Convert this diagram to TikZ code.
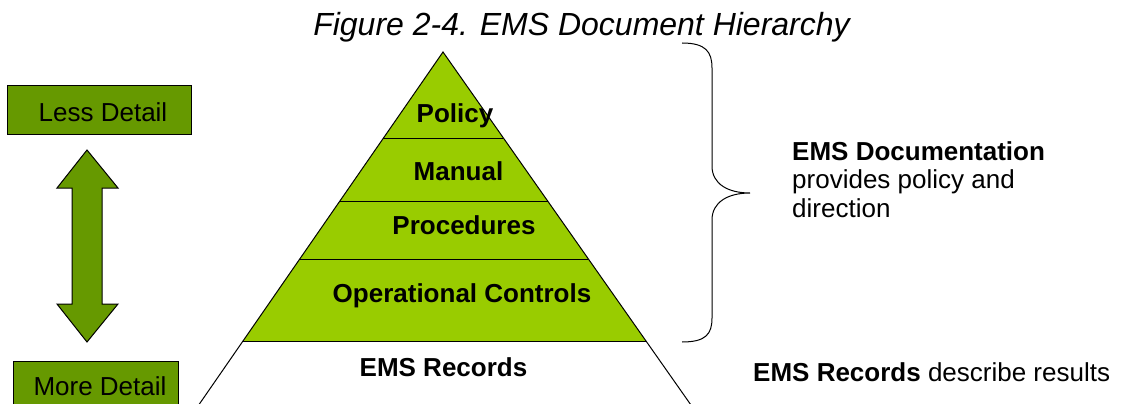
\documentclass[tikz,border=0pt]{standalone}
\usepackage{fontspec}
\setmainfont{Liberation Sans}
\usetikzlibrary{calc}
\definecolor{darkgreen}{HTML}{669900}
\definecolor{lightgreen}{HTML}{99CC00}
\begin{document}
\begin{tikzpicture}[x=1pt,y=-1pt,
  dbox/.style={draw=black, line width=0.9pt, fill=darkgreen, inner sep=0pt},
  dtext/.style={font=\fontsize{26}{30}\selectfont, inner sep=0pt, anchor=base},
  lvl/.style={font=\fontsize{26}{30}\selectfont\bfseries, inner sep=0pt, anchor=base},
  side/.style={font=\fontsize{26}{28.5}\selectfont, inner sep=0pt, align=left},
  thin/.style={draw=black, line width=1pt}]
\useasboundingbox (0,0) rectangle (1122,404);
\begin{scope}
\clip (0,0) rectangle (1122,404);
% title
\node[font=\fontsize{32}{35}\selectfont\itshape, inner sep=0pt, anchor=base] (title) at (581.5,36) {Figure 2-4. EMS Document Hierarchy};
% detail boxes
\node[dbox, minimum width=184, minimum height=49] (less) at (99,109.5) {};
\node[dtext] (lesstext) at (103,121.7) {Less Detail};
\node[dbox, minimum width=165, minimum height=60] (more) at (95.5,391) {};
\node[dtext] (moretext) at (100,395) {More Detail};
% double arrow
\draw[thin, fill=darkgreen] (87,150) -- (118,188) -- (102,188) -- (102,304) -- (118,304) -- (87,342)
  -- (57,304) -- (72,304) -- (72,188) -- (57,188) -- cycle;
% pyramid
\coordinate (apex) at (443,52);
\coordinate (bl) at (243,341);
\coordinate (br) at (646,341);
\fill[lightgreen] (apex) -- (bl) -- (br) -- cycle;
\foreach \f/\n in {0.2976/a, 0.5156/b, 0.7163/c} {
  \coordinate (l\n) at ($(apex)!\f!(bl)$);
  \coordinate (r\n) at ($(apex)!\f!(br)$);
  \draw[thin] (l\n) -- (r\n);
}
\draw[thin] ($(apex)!1.35!(bl)$) -- (apex) -- ($(apex)!1.35!(br)$);
\draw[thin] (bl) -- (br);
\node[lvl] (policy) at (455,122.7) {Policy};
\node[lvl] (manual) at (458.5,180) {Manual};
\node[lvl] (proc) at (464,234.7) {Procedures};
\node[lvl] (opc) at (462,302.7) {Operational Controls};
\node[lvl] (rec) at (443.5,376.7) {EMS Records};
% brace
\coordinate (bt) at (682,43);
\coordinate (bb) at (682,342);
\coordinate (tip) at (750,193);
\draw[thin] (bt) .. controls (706,43) and (712,52) .. (712,68) -- (712,166)
  .. controls (712,184) and (728,193) .. (tip)
  .. controls (728,193) and (712,202) .. (712,220) -- (712,318)
  .. controls (712,334) and (706,342) .. (bb);
% side texts
\node[side, anchor=north west] (doc) at (792,141.4) {\textbf{EMS Documentation}\\provides policy and\\direction};
\node[dtext, anchor=base west] (recs) at (753,381.7) {\textbf{EMS Records} describe results};
\end{scope}
\end{tikzpicture}
\end{document}
